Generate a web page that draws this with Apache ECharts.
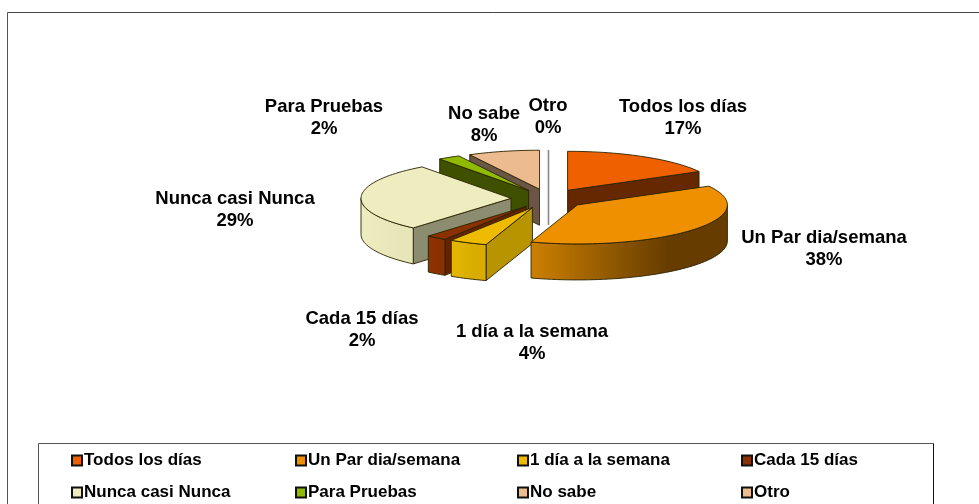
<!DOCTYPE html>
<html>
<head>
<meta charset="utf-8">
<style>html,body{margin:0;padding:0;background:#fff}#c{width:979px;height:504px}</style>
<script src="https://cdn.jsdelivr.net/npm/echarts@6/dist/echarts.min.js"></script>
</head>
<body>
<div id="c"></div>
<script>
const categories = ['Todos los días','Un Par dia/semana','1 día a la semana','Cada 15 días','Nunca casi Nunca','Para Pruebas','No sabe','Otro'];
const values = [17,38,4.1,2.2,28.6,2.4,7.7,0];

// styling, kept apart from the data
const topColors  = ['#EE6000','#EE9000','#EEBB00','#8B3000','#EDEDBF','#8FBA00','#EDBB90','#EDBB90'];
const wallColors = ['#662800','#663C00','#B89400','#662200','#8C8C70','#3F5000','#6B5545','#888888'];
const outerStops = [
  ['#662800','#662800'],
  ['#CC8000','#663C00'],
  ['#E4B800','#D8AC00'],
  ['#8F3200','#8B3000'],
  ['#EDEDBF','#E6E6B8'],
  ['#3F5000','#3F5000'],
  ['#6B5545','#6B5545'],
  ['#888888','#888888']
];
const labelAnchors = [[683,118],[824,249],[532,343],[362,330],[235,210],[324,118],[484,125],[548,117]];
const paintOrder = [0,6,7,5,4,3,2,1];

const CX = 548.5, CY = 198.7, RX = 150, RY = 39, DEPTH = 36, EXPLODE = 0.25;
const total = values.reduce((a,b)=>a+b,0);
const rad = d => d*Math.PI/180;

function renderSlice(i, api){
  const v = api.value(0);
  let cum = 0; for(let k=0;k<i;k++) cum += values[k];
  const a0 = cum/total*360, a1 = (cum+v)/total*360, mid = (a0+a1)/2;
  const ax = CX + EXPLODE*RX*Math.sin(rad(mid));
  const ay = CY - EXPLODE*RY*Math.cos(rad(mid));
  const rim = a => [ax+RX*Math.sin(rad(a)), ay-RY*Math.cos(rad(a))];
  const arc = (s,e) => { const p=[]; const n=Math.max(1,Math.ceil((e-s)/2)); for(let k=0;k<=n;k++) p.push(rim(s+(e-s)*k/n)); return p; };
  const down = p => [p[0],p[1]+DEPTH];
  const stroke = {stroke:'#2a2200', lineWidth:0.9, lineJoin:'round'};
  const children = [];
  if (v === 0) {
    children.push({type:'line', shape:{x1:ax,y1:ay-RY,x2:ax,y2:ay+DEPTH}, style:{stroke:wallColors[i], lineWidth:1.6}});
  } else {
    const wall = a => { const r=rim(a); return {type:'polygon', shape:{points:[[ax,ay],r,down(r),[ax,ay+DEPTH]]}, style:Object.assign({fill:wallColors[i]},stroke)}; };
    if (Math.sin(rad(a0)) < -1e-6) children.push(wall(a0));
    if (Math.sin(rad(a1)) >  1e-6) children.push(wall(a1));
    const s = Math.max(a0,90), e = Math.min(a1,270);
    if (e > s) {
      const top = arc(s,e);
      const pts = top.concat(top.slice().reverse().map(down));
      const x0 = Math.min(...pts.map(p=>p[0])), x1 = Math.max(...pts.map(p=>p[0]));
      children.push({type:'polygon', shape:{points:pts}, style:Object.assign({
        fill:{type:'linear', x:x0, y:0, x2:x0+(x1-x0)*0.7, y2:0, global:true,
              colorStops:[{offset:0,color:outerStops[i][0]},{offset:1,color:outerStops[i][1]}]}
      },stroke)});
    }
    const face = [[ax,ay]].concat(arc(a0,a1));
    children.push({type:'polygon', shape:{points:face}, style:Object.assign({fill:topColors[i]},stroke)});
  }
  children.push({type:'text', z2:100, style:{
    text: categories[i]+'\n'+Math.round(v/total*100)+'%',
    x: labelAnchors[i][0], y: labelAnchors[i][1],
    align:'center', verticalAlign:'middle', lineHeight:22,
    font:'bold 18.5px "Liberation Sans", Arial, sans-serif', fill:'#000'
  }});
  return {type:'group', children};
}

const series = paintOrder.map((i,n)=>({
  type:'custom', name:categories[i], coordinateSystem:'none', z:2+n, silent:true,
  itemStyle:{color:topColors[i]},
  data:[[values[i]]],
  renderItem:(p,api)=>renderSlice(i,api)
}));

const legendCols = [71,295,517,741];
const legend = legendCols.map((x,c)=>({
  left:x, top:451.5, orient:'vertical', itemWidth:10, itemHeight:10, itemGap:14, padding:0,
  icon:'rect', selectedMode:false,
  data:[categories[c],categories[c+4]].map(n=>({name:n,icon:'rect',itemStyle:{borderColor:'#111',borderWidth:2}})),
  textStyle:{fontFamily:'"Liberation Sans", Arial, sans-serif',fontWeight:'bold',fontSize:17,color:'#000',padding:[0,0,0,-3],lineHeight:18}
}));

const line = (x1,y1,x2,y2,c) => ({type:'line',z:1,shape:{x1,y1,x2,y2},style:{stroke:c,lineWidth:1}});
const chart = echarts.init(document.getElementById('c'),null,{renderer:'canvas'});
chart.setOption({
  animation:false,
  backgroundColor:'#fff',
  legend,
  graphic:[
    line(7.5,12.5,979,12.5,'#444'),
    line(7.5,12.5,7.5,504,'#555'),
    line(38.5,443.5,933.5,443.5,'#555'),
    line(38.5,443.5,38.5,504,'#555'),
    line(933.5,443.5,933.5,504,'#111')
  ],
  series
});
</script>
</body>
</html>
